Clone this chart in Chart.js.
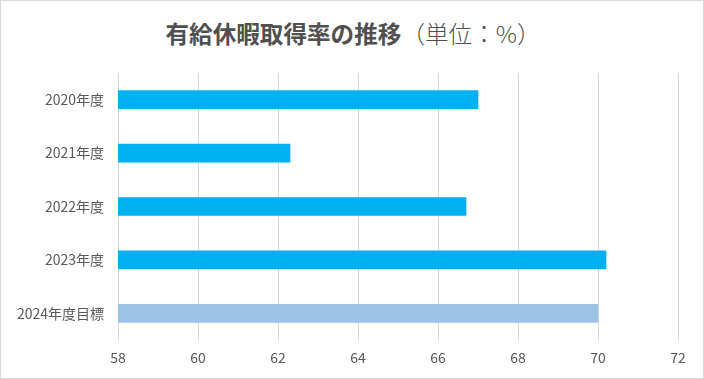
<!DOCTYPE html>
<html>
<head>
<meta charset="utf-8">
<script src="https://cdn.jsdelivr.net/npm/chart.js@4"></script>
<style>
  html,body{margin:0;padding:0;background:#fff;}
  #wrap{position:relative;width:704px;height:379px;box-sizing:border-box;border:1px solid #d9d9d9;overflow:hidden;}
  #title{position:absolute;left:0;top:17px;width:704px;text-align:center;font-family:"Noto Sans CJK JP",sans-serif;font-size:23.6px;line-height:30px;color:#505050;}
  #title b{font-weight:700;}
  #title span{font-weight:300;}
  canvas{position:absolute;left:-1px;top:-1px;}
</style>
</head>
<body>
<div id="wrap">
  <div id="title"><b>有給休暇取得率の推移</b><span>（単位：%）</span></div>
  <canvas id="c" width="704" height="379"></canvas>
</div>
<script>
const categories = ["2020年度", "2021年度", "2022年度", "2023年度", "2024年度目標"];
const rates = [67.0, 62.3, 66.7, 70.2, 70.0];
const barColors = ["#00B0F0", "#00B0F0", "#00B0F0", "#00B0F0", "#9DC3E6"];
const xMin = 58, xMax = 72, xStep = 2;

const font = {family: '"Noto Sans CJK JP", sans-serif', size: 14};
new Chart(document.getElementById('c'), {
  type: 'bar',
  data: {
    labels: categories,
    datasets: [{
      data: rates,
      backgroundColor: barColors,
      borderWidth: 0,
      barThickness: 18
    }]
  },
  options: {
    indexAxis: 'y',
    responsive: false,
    animation: false,
    layout: {padding: {top: 73, right: 26, left: 0, bottom: 0}},
    plugins: {legend: {display: false}, tooltip: {enabled: false}, title: {display: false}},
    scales: {
      x: {
        min: xMin, max: xMax,
        ticks: {stepSize: xStep, color: '#595959', font: font, padding: 9},
        grid: {color: '#d9d9d9', lineWidth: 1, drawTicks: false},
        border: {display: false},
        afterFit: s => { s.height = 39; }
      },
      y: {
        ticks: {color: '#595959', font: font, padding: 14},
        grid: {display: false, drawTicks: false},
        border: {display: false},
        afterFit: s => { s.width = 118; }
      }
    }
  }
});
</script>
</body>
</html>
